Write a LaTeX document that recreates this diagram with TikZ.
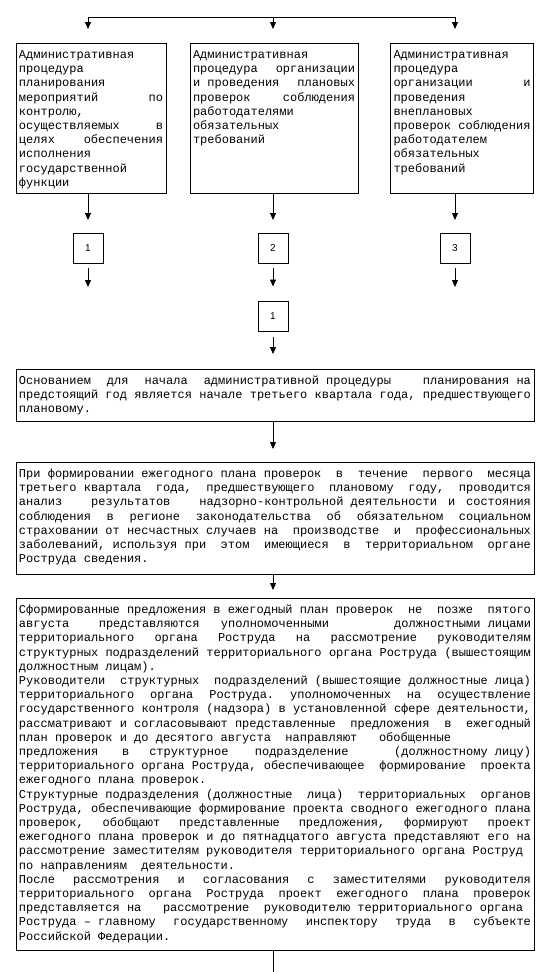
\documentclass[tikz,border=0pt]{standalone}
\usepackage{fontspec}
\newfontfamily\mono{Liberation Mono}
\newfontfamily\numfont{Liberation Sans}
\usetikzlibrary{arrows.meta}
\newcommand\J[1]{\hbox to\linewidth{#1}}
\newcommand\R[1]{\hbox{#1}}
\newcommand\gf[1]{\hspace{0pt plus #1fill}}
\newcommand\boxfont{\mono\fontsize{12pt}{14.2pt}\selectfont\frenchspacing\spaceskip=\fontdimen2\font plus 1fil\relax}
\newcommand\nfont{\numfont\fontsize{10pt}{12pt}\selectfont}
\newcommand\tb[3]{\parbox[c][#2][t]{#1}{\baselineskip=14.2pt\lineskiplimit=-20pt\hbox{}\vskip1.3pt #3}}
\tikzset{
  box/.style={draw, line width=0.8pt, inner xsep=3pt, inner ysep=0pt, outer sep=0pt, anchor=north west, font=\boxfont},
  num/.style={draw, line width=0.8pt, minimum width=30pt, minimum height=30pt, inner sep=0pt, outer sep=0pt, font=\nfont},
  arr/.style={line width=0.8pt, -{Triangle[length=7pt,width=6pt,sep=#1]}},
  arr/.default=4pt,
  ln/.style={line width=0.8pt}
}
\begin{document}
\begin{tikzpicture}[x=1pt,y=-1pt]
\useasboundingbox (0,0) rectangle (551,972);
\fill[white] (0,0) rectangle (551,972);
\coordinate (b1) at (88,17);
\coordinate (b2) at (273,17);
\coordinate (b3) at (455,17);
\draw[ln] (b1) -- (b3);
\node[box] (t1) at (16,43) {\tb{144pt}{150pt}{%
\R{Административная}
\R{процедура}
\R{планирования}
\J{мероприятий\hfill по}
\R{контролю,}
\J{осуществляемых\hfill в}
\J{целях\hfill обеспечения}
\R{исполнения}
\R{государственной}
\R{функции}}};
\node[box] (t2) at (190,43) {\tb{162pt}{150pt}{%
\R{Административная}
\J{процедура\hfill организации}
\J{и проведения\hfill плановых}
\J{проверок\hfill соблюдения}
\R{работодателями}
\R{обязательных}
\R{требований}}};
\node[box] (t3) at (390.5,43) {\tb{137pt}{150pt}{%
\R{Административная}
\R{процедура}
\J{организации\hfill и}
\R{проведения}
\R{внеплановых}
\J{проверок соблюдения}
\R{работодателем}
\R{обязательных}
\R{требований}}};
\draw[arr, shorten >=10pt] (b1) -- (b1 |- t1.north);
\draw[arr, shorten >=10pt] (b2) -- (b2 |- t2.north);
\draw[arr, shorten >=10pt] (b3) -- (b3 |- t3.north);
\node[num] (s1) at (88,248) {1};
\node[num] (s2) at (273,248) {2};
\node[num] (s3) at (455,248) {3};
\draw[arr, shorten >=9pt] (s1 |- t1.south) -- (s1.north);
\draw[arr, shorten >=9pt] (s2 |- t2.south) -- (s2.north);
\draw[arr, shorten >=9pt] (s3 |- t3.south) -- (s3.north);
\coordinate (e1) at (88,292);
\coordinate (e3) at (455,292);
\draw[arr=5pt, shorten <=5pt] (s1.south) -- (e1);
\draw[arr=5pt, shorten <=5pt] (s3.south) -- (e3);
\node[num] (m) at (273,316.5) {1};
\draw[arr=5pt, shorten <=5pt, shorten >=10pt] (s2.south) -- (m.north);
\node[box] (A) at (16,369) {\tb{512pt}{52pt}{%
\J{Основанием\hfill для\hfill начала\hfill административной процедуры\hfill\hfill планирования на}
\J{предстоящий год является начале третьего квартала года, предшествующего}
\R{плановому.}}};
\draw[arr=5pt, shorten <=5pt, shorten >=10pt] (m.south) -- (m.south |- A.north);
\node[box] (B) at (16,462) {\tb{512pt}{112pt}{%
\J{При формировании ежегодного плана проверок\hfill в\hfill течение\hfill первого\hfill месяца}
\J{третьего квартала\hfill года,\hfill предшествующего\hfill плановому\hfill году,\hfill проводится}
\J{анализ\gf{2} результатов\gf{2} надзорно-контрольной деятельности\hfill и\hfill состояния}
\J{соблюдения в регионе законодательства об обязательном социальном}
\J{страховании от несчастных случаев на\hfill производстве\hfill и\hfill профессиональных}
\J{заболеваний, используя при\hfill этом\hfill имеющиеся\hfill в\hfill территориальном\hfill органе}
\R{Роструда сведения.}}};
\draw[arr, shorten >=9pt] (A.south -| m) -- (B.north -| m);
\node[box] (C) at (16,598) {\tb{512pt}{352pt}{%
\J{Сформированные предложения в ежегодный план проверок\hfill не\hfill позже\hfill пятого}
\J{августа\gf{3.3} представляются\gf{2.1} уполномоченными\gf{8.6} должностными лицами}
\J{территориального органа Роструда на рассмотрение руководителям}
\J{структурных подразделений территориального органа Роструда (вышестоящим}
\R{должностным лицам).}
\J{Руководители\hfill структурных\hfill подразделений (вышестоящие должностные лица)}
\J{территориального органа Роструда. уполномоченных на осуществление}
\J{государственного контроля (надзора) в установленной сфере деятельности,}
\J{рассматривают и согласовывают представленные\hfill предложения\hfill в\hfill ежегодный}
\R{план проверок и до десятого августа\ \ направляют\ \ \ обобщенные}
\J{предложения\gf{2.6} в\gf{2} структурное\gf{3} подразделение\gf{6} (должностному лицу)}
\J{территориального органа Роструда, обеспечивающее\hfill формирование\hfill проекта}
\R{ежегодного плана проверок.}
\J{Структурные подразделения (должностные\hfill лица)\hfill территориальных\hfill органов}
\J{Роструда, обеспечивающие формирование проекта сводного ежегодного плана}
\J{проверок, обобщают представленные предложения, формируют проект}
\J{ежегодного плана проверок и до пятнадцатого августа представляют его на}
\R{рассмотрение заместителям руководителя территориального органа Роструд}
\R{по направлениям\ \ деятельности.}
\J{После рассмотрения и согласования с заместителями руководителя}
\J{территориального органа Роструда проект ежегодного плана проверок}
\R{представляется на\ \ \ рассмотрение\ \ руководителю территориального органа}
\J{Роструда – главному\hfill государственному\hfill инспектору\hfill труда\hfill в\hfill субъекте}
\R{Российской Федерации.}}};
\draw[arr=3pt, shorten >=5pt] (B.south -| m) -- (C.north -| m);
\coordinate (cend) at (273,972);
\draw[ln] (C.south -| m) -- (cend);
\end{tikzpicture}
\end{document}
